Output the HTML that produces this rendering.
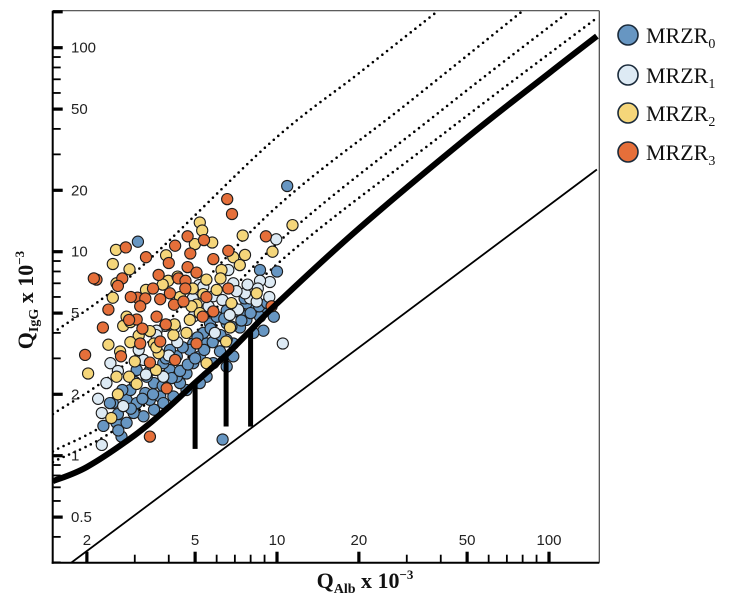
<!DOCTYPE html>
<html><head><meta charset="utf-8"><style>
html,body{margin:0;padding:0;background:#fff;}
svg{display:block;}
</style></head><body>
<svg id="chart" width="732" height="606" viewBox="0 0 732 606" xmlns="http://www.w3.org/2000/svg">
<defs><clipPath id="plotclip"><rect x="52.7" y="10.7" width="546.6" height="552"/></clipPath></defs>
<g id="plot"></g>
<g id="axes"></g>
<text transform="translate(33,300) rotate(-90)" text-anchor="middle" font-family="Liberation Serif, serif" font-weight="bold" font-size="22" fill="#111">Q<tspan font-size="14" dy="5">IgG</tspan><tspan dy="-5"> x 10</tspan><tspan font-size="13" dy="-9">−3</tspan></text>
<text x="365" y="588" text-anchor="middle" font-family="Liberation Serif, serif" font-weight="bold" font-size="22" fill="#111">Q<tspan font-size="14" dy="5">Alb</tspan><tspan dy="-5"> x 10</tspan><tspan font-size="13" dy="-9">−3</tspan></text>
<g id="legend"></g>
</svg>
<script>
// ---- data ----
const xTicksMajor = [2, 5, 10, 20, 50, 100];
const xTicksMinor = [3, 4, 6, 7, 8, 9, 30, 40, 60, 70, 80, 90];
const yTicksMajor = [0.5, 1, 2, 5, 10, 20, 50, 100];
const yTickLabels = ["0.5", "1", "2", "5", "10", "20", "50", "100"];
const yTicksMinor = [0.3, 0.4, 0.6, 0.7, 0.8, 0.9, 3, 4, 6, 7, 8, 9, 30, 40, 60, 70, 80, 90];
const seriesNames = ["MRZR", "MRZR", "MRZR", "MRZR"];
const seriesSubs = ["0", "1", "2", "3"];

const limitAlb = [1.5, 2, 3, 4, 5, 6.5, 8, 10, 20, 50, 100, 150];
const limitQ = [0.75, 0.88, 1.26, 1.73, 2.28, 3.12, 4.12, 5.57, 13.0, 36.2, 75, 114];
const lowerAlb = [1.5, 150];
const lowerQ = [0.256, 25.3];
const dot20Alb = [1.5, 3, 9.43, 40, 150]; const dot20Q = [0.93, 1.6, 8.1, 37, 140];
const dot40Alb = [1.5, 3, 9.43, 40, 119.5]; const dot40Q = [1.05, 1.85, 10.2, 49, 151.7];
const dot60Alb = [1.5, 3, 9.43, 30, 80.1]; const dot60Q = [1.6, 3.1, 15.5, 53, 151.7];
const dot80Alb = [1.5, 3, 9.43, 20, 39.1]; const dot80Q = [4.0, 7.9, 34.1, 75, 151.7];
const barAlb = [5, 6.5, 8];
const barTop = [2.28, 3.12, 4.12];
const barBottom = [1.08, 1.39, 1.39];

const mrzr0Alb = [3.08,10.0,6.31,2.68,2.57,2.49,2.80,3.05,3.28,3.53,3.72,3.32,4.04,4.28,4.65,4.92,5.2,5.51,6.0,5.67,6.53,7.31,7.72,8.18,8.66,9.17,9.73,8.91,8.18,6.91,6.17,5.51,5.2,4.65,4.16,3.82,3.53,3.23,2.97,2.80,4.40,4.92,5.36,6.91,6.53,5.83,7.31,7.72,6.53,6.0,4.28,3.82,3.05,2.89,3.41,2.43,2.61,4.04,4.78,5.67,6.53,8.66,
  2.3,2.6,2.9,3.2,3.5,3.8,4.1,4.4,4.7,5.0,5.4,5.8,6.2,6.8,7.4,8.0,8.6,9.2,2.7,3.0,3.4,3.9,4.5,5.1,5.7,6.4,7.0,7.6,10.9];
const mrzr0Q = [11.2,8.0,1.2,1.24,1.45,1.81,1.88,1.81,2.03,2.27,1.95,2.44,2.63,3.07,2.53,2.84,3.07,3.55,3.83,4.45,4.45,4.25,4.63,5.2,4.8,5.3,4.8,4.1,4.0,3.55,3.25,2.44,2.27,2.10,1.95,1.81,1.68,1.56,1.62,1.45,2.27,3.55,4.0,3.07,2.73,2.84,5.0,5.58,5.15,4.8,2.44,2.84,2.63,2.10,1.88,1.81,1.33,3.3,3.3,5.2,3.7,8.13,
  1.4,1.6,1.7,1.9,2.0,2.2,2.4,2.6,2.8,3.0,3.3,3.6,3.9,4.3,4.6,5.0,5.4,5.6,2.1,2.3,2.6,3.0,3.4,3.8,4.2,4.7,5.1,5.9,21.0];
const mrzr1Alb = [2.27,2.27,2.44,2.36,3.88,4.22,5.17,5.36,6.62,6.91,7.96,9.37,9.42,9.93,10.5,7.63,5.83,4.92,3.23,3.61,2.72,3.82,5.91,7.2,8.66,8.42,
  2.2,2.6,3.1,3.6,4.3,4.9,5.6,6.3,7.1,7.8,8.5,3.3,4.0,6.7];
const mrzr1Q = [1.62,1.13,2.84,2.27,4.33,4.25,6.85,6.74,8.13,7.0,5.9,6.0,7.1,11.5,3.55,6.25,6.05,4.8,2.95,4.1,1.75,2.44,4.0,5.2,7.2,5.7,
  1.9,2.6,3.3,3.9,3.6,5.9,5.4,5.8,6.4,6.9,6.6,2.5,3.1,4.9];
const mrzr2Alb = [5.2,5.31,5.78,4.99,3.91,2.56,2.87,2.57,2.49,3.98,4.31,5.06,4.85,5.36,6.25,6.91,7.63,7.48,9.63,11.4,2.72,2.89,3.41,3.53,4.16,3.10,2.89,2.65,2.57,2.86,2.02,2.46,3.05,3.59,3.67,4.65,4.78,5.20,6.72,6.5,5.51,8.42,6.0,2.49,
  2.4,2.8,3.3,3.8,4.4,4.9,5.5,6.2,3.0,3.6,4.2,2.6,6.8,7.3];
const mrzr2Q = [13.9,12.7,11.1,10.9,9.6,10.2,8.2,7.0,5.95,7.2,7.55,5.5,5.4,6.2,8.13,9.4,9.65,12.0,10.0,13.5,4.33,4.52,4.08,3.55,3.9,3.88,3.6,3.24,2.44,2.44,2.53,1.53,2.25,2.63,3.18,4.0,4.63,5.0,4.25,3.63,2.84,6.25,6.5,8.7,
  3.5,4.8,6.5,6.9,6.0,6.6,7.3,7.4,2.9,3.4,4.4,2.0,5.6,8.6];
const mrzr3Alb = [6.56,6.83,4.69,5.39,4.22,3.30,2.78,5.83,6.62,9.1,2.17,2.70,3.67,4.34,4.61,4.69,5.06,5.33,3.07,3.28,3.14,3.05,3.72,4.04,4.18,4.53,3.72,3.14,2.29,1.97,2.67,3.41,4.22,5.06,3.93,3.41,9.55,5.83,6.62,2.86,3.61,2.12,
  2.4,2.9,3.5,4.0,4.6,5.5,3.2,3.9,2.6,4.8];
const mrzr3Q = [18.1,15.3,11.9,11.4,10.7,9.4,10.5,9.2,10.1,11.9,7.3,7.4,7.7,7.4,7.2,8.4,7.9,4.8,5.95,5.9,5.4,4.65,5.85,6.25,5.5,5.7,3.63,3.55,4.25,3.12,3.07,2.86,2.95,3.55,2.14,1.24,5.4,5.1,6.6,4.63,4.8,7.4,
  5.2,6.0,6.6,8.8,6.6,6.0,4.2,4.4,6.8,9.8];

// ---- scales ----
const X0 = 52.7, X1 = 599.3, Y0 = 10.7, Y1 = 562.7;
function xs(a){ return 277 + 272*(Math.log10(a) - 1); }
function ys(q){ return 47.7 + 204*(2 - Math.log10(q)); }
const NS = "http://www.w3.org/2000/svg";
function mk(tag, attrs, parent){ const e = document.createElementNS(NS, tag); for (const k in attrs) e.setAttribute(k, attrs[k]); parent.appendChild(e); return e; }
const plot = document.getElementById('plot');
const axes = document.getElementById('axes');
const legend = document.getElementById('legend');
const clipG = mk('g', {'clip-path':'url(#plotclip)'}, plot);

function smoothPath(A, Q){
  const P = A.map((a,i)=>[xs(a), ys(Q[i])]);
  if (P.length < 3) return 'M'+P.map(p=>p[0].toFixed(1)+','+p[1].toFixed(1)).join('L');
  let d = 'M'+P[0][0].toFixed(1)+','+P[0][1].toFixed(1);
  for (let i=0;i<P.length-1;i++){
    const p0 = P[Math.max(0,i-1)], p1 = P[i], p2 = P[i+1], p3 = P[Math.min(P.length-1,i+2)];
    const c1 = [p1[0]+(p2[0]-p0[0])/6, p1[1]+(p2[1]-p0[1])/6];
    const c2 = [p2[0]-(p3[0]-p1[0])/6, p2[1]-(p3[1]-p1[1])/6];
    d += 'C'+c1[0].toFixed(1)+','+c1[1].toFixed(1)+' '+c2[0].toFixed(1)+','+c2[1].toFixed(1)+' '+p2[0].toFixed(1)+','+p2[1].toFixed(1);
  }
  return d;
}

// lower line
let p = mk('path', {d: smoothPath(lowerAlb, lowerQ), fill:'none', stroke:'#000', 'stroke-width':1.8}, clipG);


// dotted lines
[[dot20Alb,dot20Q,'20'],[dot40Alb,dot40Q,'40'],[dot60Alb,dot60Q,'60'],[dot80Alb,dot80Q,'80']].forEach(d=>{
  const e = mk('path', {d: smoothPath(d[0], d[1]), fill:'none', stroke:'#000', 'stroke-width':2.6, 'stroke-dasharray':'0 6', 'stroke-linecap':'round'}, clipG);
  
  
});
// scatter
const colors = ['#6796c2', '#ddeaf4', '#f5d67a', '#e56f3a'];
[[mrzr0Alb,mrzr0Q],[mrzr1Alb,mrzr1Q],[mrzr2Alb,mrzr2Q],[mrzr3Alb,mrzr3Q]].forEach((s,si)=>{
  s[0].forEach((a,i)=>{
    const c = mk('circle', {cx: xs(a).toFixed(1), cy: ys(s[1][i]).toFixed(1), r:5.6, fill: colors[si], stroke:'#1c1c1c', 'stroke-width':1.1}, clipG);
    
    
  });
});
// upper limit thick
p = mk('path', {d: smoothPath(limitAlb, limitQ), fill:'none', stroke:'#000', 'stroke-width':6, 'stroke-linejoin':'round'}, clipG);


// bars
barAlb.forEach((a,i)=>{
  const r = mk('rect', {x: (xs(a)-2.5).toFixed(1), y: ys(barTop[i]).toFixed(1), width:5, height:(ys(barBottom[i])-ys(barTop[i])).toFixed(1), fill:'#000'}, clipG);
  
  
});

// frame
mk('line', {x1:X0, y1:Y0, x2:X1, y2:Y0, stroke:'#444', 'stroke-width':1.2}, axes);
mk('line', {x1:X1, y1:Y0, x2:X1, y2:Y1, stroke:'#444', 'stroke-width':1.2}, axes);
let l = mk('line', {x1:X0, y1:Y0, x2:X0, y2:Y1+1, stroke:'#000', 'stroke-width':2}, axes);


l = mk('line', {x1:X0-1, y1:Y1, x2:X1, y2:Y1, stroke:'#000', 'stroke-width':2}, axes);



// y ticks
yTicksMajor.concat([150]).forEach(v=>{ mk('line', {x1:X0, y1:ys(v), x2:X0+10, y2:ys(v), stroke:'#000', 'stroke-width':3.2}, axes); });
yTicksMinor.forEach(v=>{ mk('line', {x1:X0, y1:ys(v), x2:X0+8, y2:ys(v), stroke:'#000', 'stroke-width':1.8}, axes); });
yTicksMajor.forEach((v,i)=>{
  const t = mk('text', {x:71, y:(ys(v)+5).toFixed(1), 'font-family':'Liberation Sans, sans-serif', 'font-size':15, fill:'#222'}, axes);
  t.textContent = yTickLabels[i];
  
  
});
// x ticks
xTicksMajor.forEach(v=>{
  mk('line', {x1:xs(v), y1:Y1, x2:xs(v), y2:Y1-11, stroke:'#000', 'stroke-width':3.2}, axes);
  const t = mk('text', {x:xs(v).toFixed(1), y:545, 'text-anchor':'middle', 'font-family':'Liberation Sans, sans-serif', 'font-size':15, fill:'#222'}, axes);
  t.textContent = String(v);
  
  
});
xTicksMinor.forEach(v=>{ mk('line', {x1:xs(v), y1:Y1, x2:xs(v), y2:Y1-8, stroke:'#000', 'stroke-width':1.8}, axes); });

// legend
const legY = [35, 75, 113, 152];
seriesNames.forEach((n,i)=>{
  const g = mk('g', {}, legend);
  
  
  mk('circle', {cx:628, cy:legY[i], r:10, fill:colors[i], stroke:'#1a2a3a', 'stroke-width':1.6}, g);
  const t = mk('text', {x:646, y:legY[i]+8, 'font-family':'Liberation Serif, serif', 'font-size':22, fill:'#111'}, g);
  t.textContent = n;
  const s = mk('tspan', {'font-size':14, dy:5}, t);
  s.textContent = seriesSubs[i];
});
</script>
</body></html>
